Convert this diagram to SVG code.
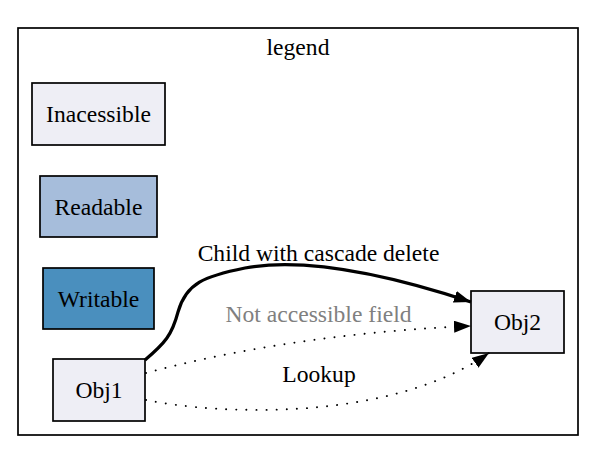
<svg xmlns="http://www.w3.org/2000/svg" width="600" height="464" viewBox="0 0 600 464">
<style>
text{font-family:"Liberation Serif","Times New Roman",serif;font-size:23.6px;text-anchor:middle;fill:#000}
.box{stroke:#000;stroke-width:1.7}
.e{fill:none;stroke:#000}
.solid{stroke-width:3.2}
.dot{stroke-width:1.9;stroke-dasharray:0.1 10;stroke-linecap:round}
</style>
<defs>
<marker id="ah" viewBox="0 0 17 12" refX="17" refY="6" markerWidth="17" markerHeight="12" markerUnits="userSpaceOnUse" orient="auto">
<path d="M0,0 L17,6 L0,12 Z" fill="#000"/>
</marker>
</defs>
<rect x="0" y="0" width="600" height="464" fill="#fff"/>
<g id="cluster_legend">
<rect x="18" y="28" width="560" height="407" fill="none" stroke="#000" stroke-width="1.7"/>
<text x="298" y="55">legend</text>
</g>
<g id="inacessible">
<rect class="box" x="32" y="83" width="133" height="62" fill="#eeeef5"/>
<text x="98.5" y="122">Inacessible</text>
</g>
<g id="readable">
<rect class="box" x="40" y="176" width="117" height="61" fill="#a6bddb"/>
<text x="98.5" y="214.5">Readable</text>
</g>
<g id="writable">
<rect class="box" x="43" y="268" width="111" height="61" fill="#4a8fbe"/>
<text x="98.5" y="306.5">Writable</text>
</g>
<g id="obj1">
<rect class="box" x="53" y="359" width="92" height="62" fill="#eeeef5"/>
<text x="99" y="398">Obj1</text>
</g>
<g id="obj2">
<rect class="box" x="471" y="291" width="93" height="62" fill="#eeeef5"/>
<text x="517.5" y="330">Obj2</text>
</g>
<g id="edges">
<path class="e solid" d="M145,360 C165,343 172,335 178,312 C186,283 205,276 245,268 C300,258 380,272 471,302" marker-end="url(#ah)"/>
<text x="318.5" y="261">Child with cascade delete</text>
<path class="e dot" d="M146,373 C250,345 370,330 471,326" marker-end="url(#ah)"/>
<text x="318.5" y="322" style="fill:#808080">Not accessible field</text>
<path class="e dot" d="M146,400 C220,415 390,422 489,353" marker-end="url(#ah)"/>
<text x="319" y="382">Lookup</text>
</g>
</svg>
